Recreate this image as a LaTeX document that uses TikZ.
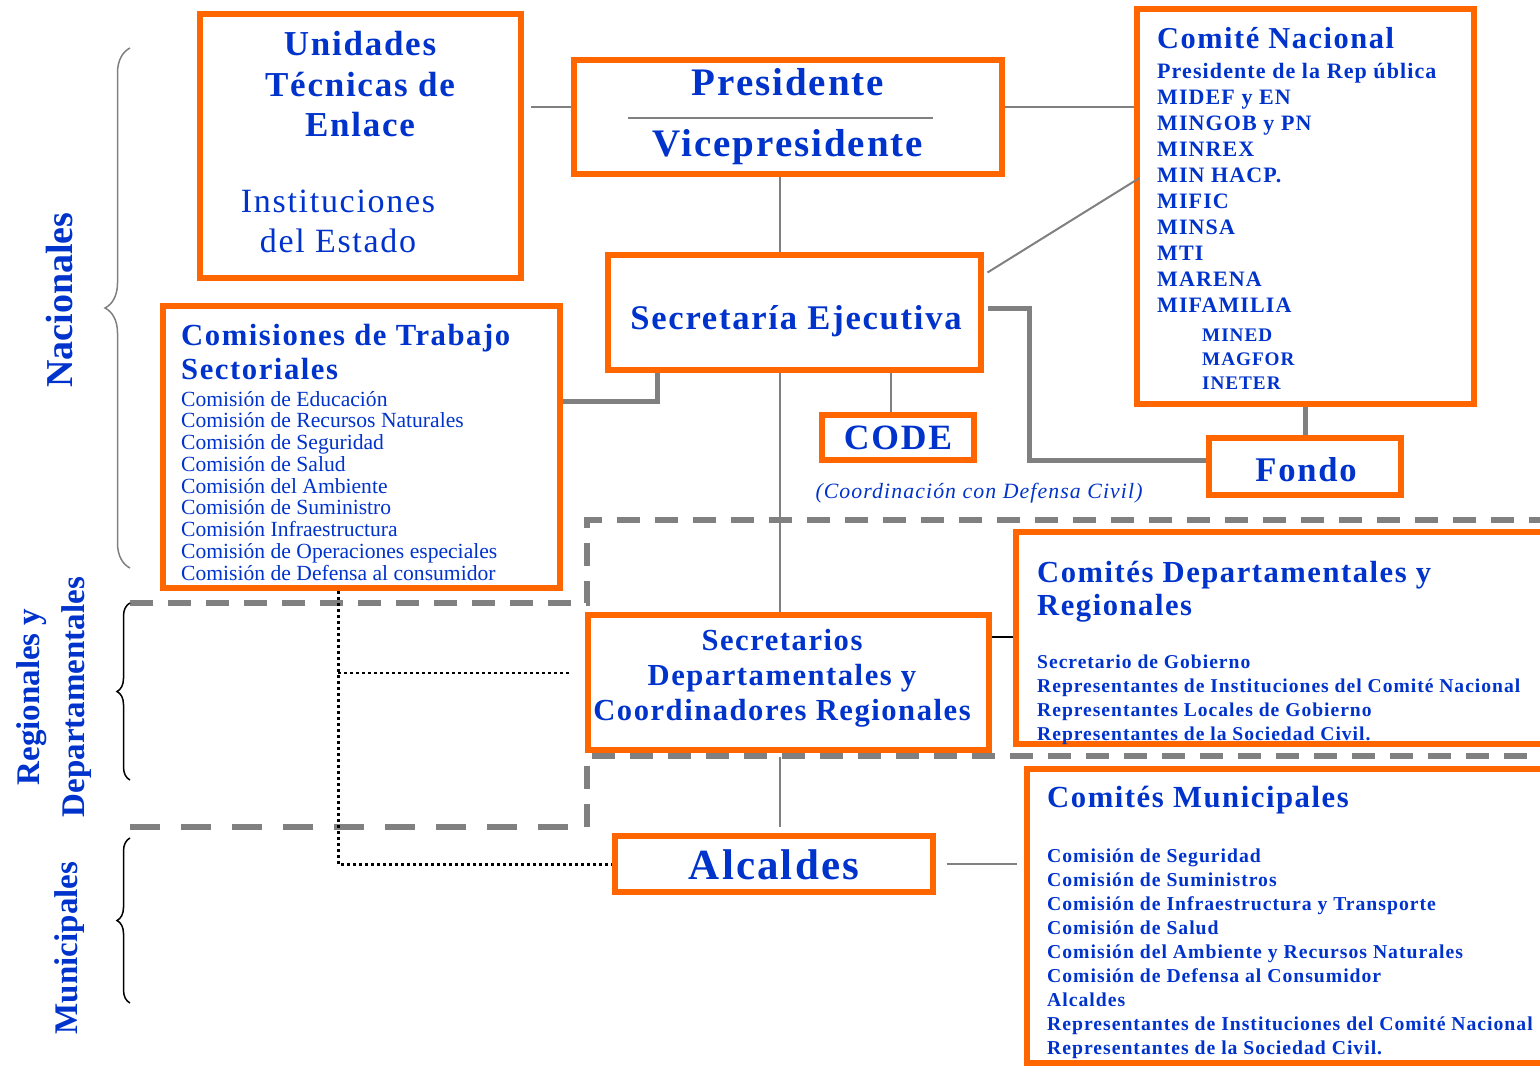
\documentclass[tikz,border=0pt]{standalone}
\usepackage{fontspec}
\setmainfont{Liberation Serif}
\newfontfamily\wide[LetterSpace=5]{Liberation Serif}
\usetikzlibrary{calc,decorations.pathreplacing}
\definecolor{ink}{HTML}{0033CC}
\definecolor{tangerine}{HTML}{FF6600}
\definecolor{slate}{HTML}{808080}
\newcommand\fs[1]{\fontsize{#1}{#1}\selectfont}
\tikzset{
  box/.style={draw=tangerine, line width=6pt, fill=white, inner sep=0pt},
  txt/.style={text=ink, inner sep=0pt, anchor=base},
  lead/.style={txt, font=\wide\bfseries\fs{#1}},
  entry/.style={txt, anchor=base west, font=\wide\bfseries\fs{#1}},
  side/.style={txt, anchor=center, rotate=90, font=\bfseries\fs{#1}},
  link/.style={draw=slate, line width=2pt},
  bar/.style={draw=slate, line width=5pt},
  zone/.style={draw=slate, line width=6pt, dash pattern=on 23pt off 15pt},
  dots/.style={draw=black, line width=3pt, dash pattern=on 3pt off 3pt},
  curly/.style={decorate, decoration={brace, amplitude=#1}, line width=1.5pt},
}

\begin{document}
\begin{tikzpicture}[x=1pt, y=-1pt]
\useasboundingbox (0,0) rectangle (1540,1066);

\draw[zone] (130,603) -- (587,603) -- (587,520) -- (1540,520);
\draw[zone, dash pattern=on 30pt off 21pt] (130,827) -- (587,827);
\draw[zone] (587,827) -- (587,756) -- (1540,756);

\draw[curly=25pt, draw=slate] (130,568) -- (130,48);
\draw[curly=13pt] (130,780) -- (130,603);
\draw[curly=13pt] (130,1003) -- (130,838);
\node[side=38] (nac) at (60,300) {Nacionales};
\node[side=33, align=center, font=\bfseries\fontsize{33}{45}\selectfont] (reg) at (54,697) {Regionales y\\Departamentales};
\node[side=33] (mun) at (70,948) {Municipales};

\node[box, minimum width=321pt, minimum height=264pt] (unidades) at (360.5,146) {};
\node[box, minimum width=428pt, minimum height=114pt] (pres) at (787.5,117) {};
\node[box, minimum width=337pt, minimum height=395pt] (comite) at (1305,206) {};
\node[box, minimum width=373pt, minimum height=115pt] (secej) at (794,312) {};
\node[box, minimum width=397pt, minimum height=282pt] (comis) at (361,447) {};
\node[box, minimum width=152pt, minimum height=45pt] (code) at (898,437) {};
\node[box, minimum width=192pt, minimum height=57pt] (fondo) at (1305,466.5) {};
\node[box, minimum width=401pt, minimum height=135pt] (secdep) at (788,682) {};
\node[box, minimum width=560pt, minimum height=212pt] (comdep) at (1295.5,638) {};
\node[box, minimum width=550pt, minimum height=294pt] (commun) at (1302,916) {};
\node[box, minimum width=318pt, minimum height=56pt] (alcaldes) at (773.5,864) {};

\foreach \t/\y [count=\i] in {Unidades/55, Técnicas de/96, Enlace/136}
  \node[lead=35] (ute\i) at (360,\y) {\t};
\foreach \t/\y [count=\i] in {Instituciones/212, del Estado/252}
  \node[txt, font=\wide\fs{34}] (inst\i) at (338,\y) {\t};

\node[lead=39] (presA) at (788,95) {Presidente};
\node[lead=39] (presB) at (788,156) {Vicepresidente};
\draw[link] (628,118) -- (933,118);

\node[entry=30.4] (cnHead) at (1157,48) {Comité Nacional};
\foreach \t [count=\i from 0] in {Presidente de la Rep ública, MIDEF y EN, MINGOB y PN, MINREX, MIN HACP., MIFIC, MINSA, MTI, MARENA, MIFAMILIA}
  \node[entry=22] (cn\i) at (1157,{78+26.1*\i}) {\t};
\foreach \t [count=\i from 0] in {MINED, MAGFOR, INETER}
  \node[entry=19.2] (cx\i) at (1202,{341+24*\i}) {\t};

\node[lead=34.6] (secejT) at (796,329) {Secretaría Ejecutiva};

\node[entry=30.7] (csA) at (181,345) {Comisiones de Trabajo};
\node[entry=30.7] (csB) at (181,379) {Sectoriales};
\foreach \t [count=\i from 0] in {Comisión de Educación, Comisión de Recursos Naturales, Comisión de Seguridad, Comisión de Salud, Comisión del Ambiente, Comisión de Suministro, Comisión Infraestructura, Comisión de Operaciones especiales, Comisión de Defensa al consumidor}
  \node[txt, anchor=base west, font=\fs{21.6}] (cs\i) at (181,{406+21.75*\i}) {\t};

\node[lead=35.6] (codeT) at (898,449) {CODE};
\node[txt, font=\wide\itshape\fs{21.8}] (civil) at (979,498) {(Coordinación con Defensa Civil)};
\node[lead=34.6] (fondoT) at (1306,481) {Fondo};

\foreach \t/\y [count=\i] in {Secretarios/650, Departamentales y/685, Coordinadores Regionales/720}
  \node[lead=30.6] (sd\i) at (782,\y) {\t};

\node[entry=30.6] (cdA) at (1037,582) {Comités Departamentales y};
\node[entry=30.6] (cdB) at (1037,615) {Regionales};
\foreach \t [count=\i from 0] in {Secretario de Gobierno, Representantes de Instituciones del Comité Nacional, Representantes Locales de Gobierno, Representantes de la Sociedad Civil.}
  \node[entry=19.6] (cd\i) at (1037,{668+24.3*\i}) {\t};

\node[lead=43] (alcT) at (774,879) {Alcaldes};

\node[entry=30.7] (cmHead) at (1047,807) {Comités Municipales};
\foreach \t [count=\i from 0] in {Comisión de Seguridad, Comisión de Suministros, Comisión de Infraestructura y Transporte, Comisión de Salud, Comisión del Ambiente y Recursos Naturales, Comisión de Defensa al Consumidor, Alcaldes, Representantes de Instituciones del Comité Nacional, Representantes de la Sociedad Civil.}
  \node[entry=19.7] (cm\i) at (1047,{862+24*\i}) {\t};

\coordinate (trunk) at (780,0);
\coordinate (codeTap) at (891,0);
\coordinate (tap) at (338,673);
\draw[link, shorten <=7pt] ([yshift=10pt]pres.west -| unidades.east) -- ([yshift=10pt]pres.west);
\draw[link] ([yshift=10pt]pres.east) -- ([yshift=10pt]pres.east -| comite.west);
\draw[link] (pres.south -| trunk) -- (secej.north -| trunk);
\draw[link] ($(secej.north east)+(4,21)$) -- ($(comite.west)+(6,-28)$);
\draw[bar, shorten <=4pt] ([yshift=4pt]secej.east) -- ++(46,0) |- ([yshift=6pt]fondo.west);
\draw[bar] (comite.south) -- (fondo.north);
\draw[bar] ([yshift=46pt]comis.east) -| ([xshift=53pt]secej.south west);
\draw[link] (secej.south -| codeTap) -- (code.north -| codeTap);
\draw[link] (secej.south -| trunk) -- (secdep.north -| trunk);
\draw[link, shorten <=4pt, shorten >=6pt] (secdep.south -| trunk) -- (alcaldes.north -| trunk);
\draw[link, draw=black] ([yshift=45pt]secdep.east) -- ([yshift=45pt]secdep.east -| comdep.west);
\draw[link, shorten <=11pt, shorten >=7pt] (alcaldes.east) -- (alcaldes.east -| commun.west);
\draw[dots] ([xshift=-23pt]comis.south) |- (alcaldes.west);
\draw[dots, line width=2pt] (tap) -- ([xshift=-14pt]secdep.west |- tap);
\end{tikzpicture}
\end{document}
